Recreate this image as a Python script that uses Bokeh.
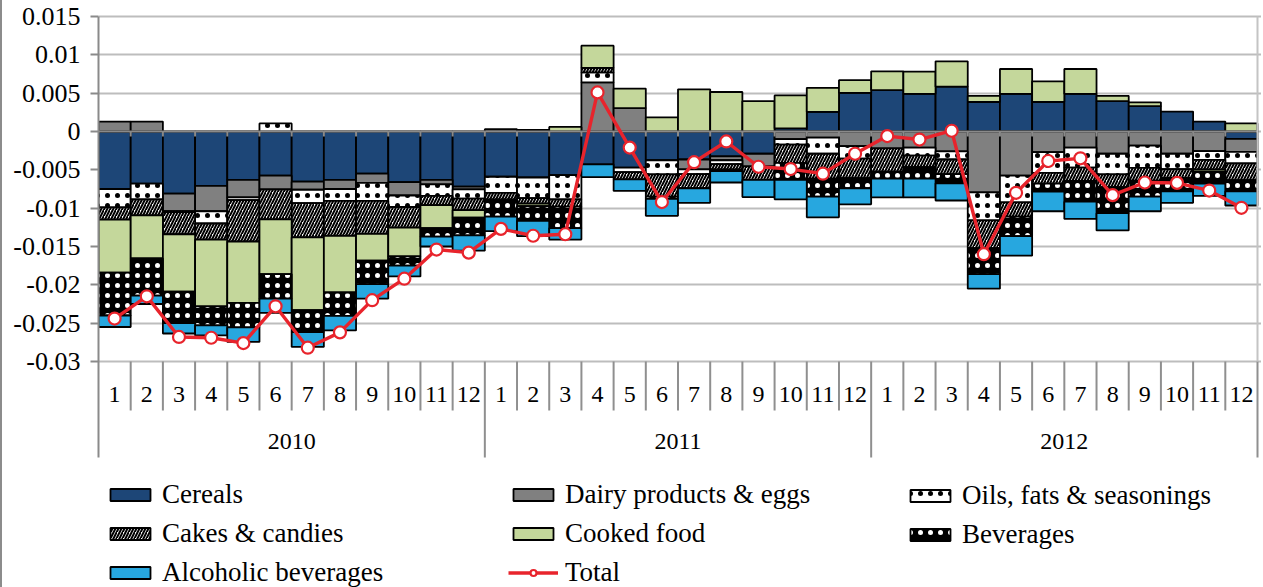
import numpy as np
from bokeh.plotting import figure
from bokeh.models import (ColumnDataSource, FixedTicker, CustomJSTickFormatter,
                          Legend, LegendItem, Range1d)
from bokeh.core.properties import value
from bokeh.embed import file_html
from bokeh.resources import INLINE

# ---------------- data ----------------
years = ["2010", "2011", "2012"]
months = ["1", "2", "3", "4", "5", "6", "7", "8", "9", "10", "11", "12"]

cereals = [-0.0075, -0.0068, -0.0081, -0.0071, -0.0063, -0.00575, -0.00655, -0.0063, -0.0055, -0.0066, -0.0063, -0.0072,
           -0.0059, -0.0060, -0.0057, -0.0043, -0.0047, -0.00375, -0.00365, -0.00325, -0.0029, 0.0004, 0.00255, 0.00505,
           0.0054, 0.0049, 0.00585, 0.00385, 0.0049, 0.00385, 0.0049, 0.00395, 0.0033, 0.0026, 0.0013, -0.00095]
dairy = [0.0013, 0.0013, -0.0023, -0.0033, -0.0023, -0.0018, -0.00105, -0.0012, -0.0012, -0.00175, -0.0006, -0.00035,
         0.0003, 0.0002, 0.0, 0.0064, 0.00305, 0.0, -0.0013, -0.0005, -0.00165, -0.001, -0.0008, -0.0019,
         -0.0022, -0.0021, -0.0026, -0.00795, -0.00575, -0.0027, -0.0021, -0.0029, -0.00185, -0.0029, -0.00255, -0.0017]
oils = [-0.0024, -0.00205, -0.0001, -0.0016, -0.00035, 0.00105, -0.00175, -0.00155, -0.00235, -0.0015, -0.0015, -0.0012,
        -0.0021, -0.0027, -0.00315, 0.0013, -0.0006, -0.00185, -0.0006, -0.0005, 0.0, -0.0007, -0.0021, -0.00165,
        0.0, -0.00105, -0.00105, -0.00365, -0.0035, -0.0027, -0.0026, -0.0027, -0.0029, -0.002, -0.00115, -0.0015]
cakes = [-0.0016, -0.0021, -0.0029, -0.0021, -0.0054, -0.0039, -0.00445, -0.00455, -0.0043, -0.0027, -0.0012, -0.0015,
         -0.00085, -0.0007, -0.00095, 0.0006, -0.00095, -0.0029, -0.00185, -0.0007, -0.00175, -0.0024, -0.00325, -0.00255,
         -0.00305, -0.0015, -0.0019, -0.0036, -0.00185, -0.0014, -0.00175, -0.00165, -0.00165, -0.00115, -0.00125, -0.0022]
cooked = [-0.0069, -0.0056, -0.0075, -0.0087, -0.008, -0.00715, -0.0095, -0.0074, -0.0035, -0.00375, -0.003, -0.001,
          0.0, -0.00035, 0.0006, 0.0029, 0.00255, 0.00185, 0.0055, 0.00515, 0.00395, 0.0043, 0.00315, 0.00165,
          0.00245, 0.0029, 0.0033, 0.0008, 0.00325, 0.0027, 0.00325, 0.0007, 0.0005, 0.0, -0.0003, 0.00105]
beverages = [-0.0056, -0.00485, -0.0041, -0.0025, -0.0032, -0.0032, -0.00285, -0.00305, -0.00305, -0.0012, -0.0011, -0.0023,
             -0.00225, -0.0019, -0.0028, 0.0, 0.0, -0.0003, 0.0, -0.0002, 0.0, -0.0022, -0.00235, -0.0013,
             -0.0009, -0.0015, -0.0012, -0.0034, -0.00255, -0.00105, -0.0027, -0.0034, -0.0021, -0.00175, -0.00155, -0.00145]
alcoholic = [-0.0015, -0.0011, -0.00135, -0.0013, -0.0019, -0.00185, -0.00195, -0.0019, -0.0019, -0.0014, -0.0013, -0.002,
             -0.0019, -0.002, -0.0015, -0.00165, -0.0015, -0.0022, -0.0019, -0.0015, -0.00225, -0.00255, -0.0027, -0.0021,
             -0.00245, -0.00245, -0.00225, -0.0019, -0.00255, -0.00255, -0.00225, -0.00225, -0.0019, -0.0015, -0.0016, -0.00185]
total = [-0.0244, -0.0215, -0.0268, -0.0269, -0.0276, -0.0228, -0.0282, -0.0262, -0.022, -0.0192, -0.0154, -0.0158,
         -0.0127, -0.0136, -0.0134, 0.0051, -0.0021, -0.0092, -0.004, -0.0013, -0.0046, -0.0049, -0.0055, -0.0029,
         -0.0006, -0.00105, 0.0001, -0.016, -0.008, -0.00385, -0.0035, -0.0083, -0.00665, -0.0067, -0.0077, -0.00995]

series_names = ["Cereals", "Dairy products & eggs", "Oils, fats & seasonings", "Cakes & candies",
                "Cooked food", "Beverages", "Alcoholic beverages"]
total_name = "Total"

y_ticks = [-0.03, -0.025, -0.02, -0.015, -0.01, -0.005, 0.0, 0.005, 0.01, 0.015]
y_tick_labels = ["-0.03", "-0.025", "-0.02", "-0.015", "-0.01", "-0.005", "0", "0.005", "0.01", "0.015"]

# ---------------- styles ----------------
styles = [
    dict(fill_color="#1d4677"),
    dict(fill_color="#808080"),
    dict(fill_color="white", hatch_pattern=".", hatch_color="black", hatch_scale=10, hatch_weight=0.8),
    dict(fill_color="white", hatch_pattern="/", hatch_color="black", hatch_scale=6, hatch_weight=2.0),
    dict(fill_color="#c4d79b"),
    dict(fill_color="black", hatch_pattern=".", hatch_color="white", hatch_scale=10, hatch_weight=0.8),
    dict(fill_color="#27a7df"),
]
FONT = "'Liberation Serif', 'Times New Roman', serif"

# ---------------- geometry (page pixels) ----------------
W, H = 1261, 587
SHIFT = 2                       # left border of the chart area
LEFT = 98 - SHIFT
PPU = 345.0 / 0.045             # pixels per data unit (0.015 -> y 16, -0.03 -> y 361)
Y_TOP = 0.015 + 16 / PPU
Y_BOT = -0.03 - (H - 361) / PPU
CAT_PX = (1257 - 98) / 36.0


def yat(py):
    return Y_TOP - py / PPU


n = len(years) * len(months)
xc = np.arange(n) + 0.5

p = figure(width=W, height=H, output_backend="svg", toolbar_location=None, title=None,
           x_range=Range1d(0, (W - LEFT) / CAT_PX), y_range=Range1d(Y_BOT, Y_TOP),
           x_axis_location=None, y_axis_location="left",
           min_border_left=LEFT, min_border_right=0, min_border_top=0, min_border_bottom=0,
           styles={"border-left": "2px solid #8c8c8c"})
p.outline_line_color = None
p.background_fill_color = "white"
p.border_fill_color = "white"

# grid
p.xgrid.visible = False
p.ygrid.ticker = FixedTicker(ticks=y_ticks)
p.ygrid.grid_line_color = "#bdbdbd"
p.ygrid.grid_line_width = 2
p.ygrid.bounds = (-0.03, 0.015)

# y axis
ax = p.yaxis[0]
ax.ticker = FixedTicker(ticks=y_ticks)
ax.formatter = CustomJSTickFormatter(args=dict(tvals=y_ticks, tlabels=y_tick_labels), code="""
    for (let i = 0; i < tvals.length; i++) { if (Math.abs(tvals[i] - tick) < 1e-9) return tlabels[i]; }
    return '';
""")
ax.bounds = (yat(457), 0.015)
ax.axis_line_color = "#8a8a8a"
ax.axis_line_width = 2
ax.major_tick_line_color = "#8a8a8a"
ax.major_tick_line_width = 2
ax.major_tick_out = 8
ax.major_tick_in = 0
ax.minor_tick_line_color = None
ax.major_label_text_font = FONT
ax.major_label_text_font_size = "26px"
ax.major_label_text_color = "black"
ax.major_label_standoff = 10

# stacked bars
pos = np.zeros(n)
neg = np.zeros(n)
bar_renderers = []
for vals, st in zip([cereals, dairy, oils, cakes, cooked, beverages, alcoholic], styles):
    v = np.array(vals, dtype=float)
    bottom = np.where(v >= 0, pos, neg)
    top = bottom + v
    pos = np.where(v >= 0, top, pos)
    neg = np.where(v < 0, top, neg)
    keep = v != 0
    src = ColumnDataSource(dict(x=xc[keep], bottom=bottom[keep], top=top[keep]))
    r = p.vbar(x="x", bottom="bottom", top="top", width=1.0, source=src,
               line_color="black", line_width=1.8, **st)
    bar_renderers.append(r)

# category axis line at zero with tick marks
tick_len = 5 / PPU
p.segment(x0=[0], y0=[0], x1=[n], y1=[0], line_color="#8a8a8a", line_width=2)
bx = np.arange(1, n)
p.segment(x0=bx, y0=np.zeros(len(bx)), x1=bx, y1=np.full(len(bx), -tick_len),
          line_color="#8a8a8a", line_width=2)

# total line
r_line = p.line(xc, total, line_color="#e8242c", line_width=3.4)
r_pts = p.scatter(xc, total, size=12, marker="circle", fill_color="white",
                  line_color="#e8242c", line_width=2.2)

# multi-level category labels
month_b = [i for i in range(1, n) if i % len(months) != 0]
year_b = [len(months) * k for k in range(1, len(years) + 1)]
p.segment(x0=month_b, y0=[-0.03] * len(month_b), x1=month_b, y1=[yat(410)] * len(month_b),
          line_color="#8f8f8f", line_width=2)
p.segment(x0=year_b, y0=[-0.03] * len(year_b), x1=year_b, y1=[yat(457)] * len(year_b),
          line_color="#8f8f8f", line_width=2)
p.segment(x0=[n], y0=[0.015], x1=[n], y1=[-0.03], line_color="#c4c4c4", line_width=2)

month_labels = [m for _ in years for m in months]
p.text(x=xc, y=[yat(394)] * n, text=month_labels, text_align="center", text_baseline="middle",
       text_font=value(FONT), text_font_size="24px", text_color="black")
yc = [len(months) * (k + 0.5) for k in range(len(years))]
p.text(x=yc, y=[yat(441)] * len(years), text=years, text_align="center", text_baseline="middle",
       text_font=value(FONT), text_font_size="24px", text_color="black")

# legends (three columns)
cols = [
    [(series_names[0], [bar_renderers[0]]), (series_names[3], [bar_renderers[3]]), (series_names[6], [bar_renderers[6]])],
    [(series_names[1], [bar_renderers[1]]), (series_names[4], [bar_renderers[4]]), (total_name, [r_line, r_pts])],
    [(series_names[2], [bar_renderers[2]]), (series_names[5], [bar_renderers[5]])],
]
col_x = [105 - 98, 508 - 98, 905 - 98]
ITEM_H, SPACING = 30, 8
LEG_TOP = 482
for items, cx in zip(cols, col_x):
    hgt = len(items) * ITEM_H + (len(items) - 1) * SPACING
    leg = Legend(items=[LegendItem(label=lab, renderers=rs) for lab, rs in items],
                 location=(cx, H - LEG_TOP - hgt), orientation="vertical",
                 glyph_width=50, glyph_height=15, label_height=ITEM_H, spacing=SPACING,
                 label_standoff=7, padding=0, margin=0,
                 label_text_font=FONT, label_text_font_size="27px", label_text_color="black",
                 border_line_color=None, background_fill_alpha=0)
    p.add_layout(leg, "center")

open("out.html", "w").write(file_html(p, INLINE))
